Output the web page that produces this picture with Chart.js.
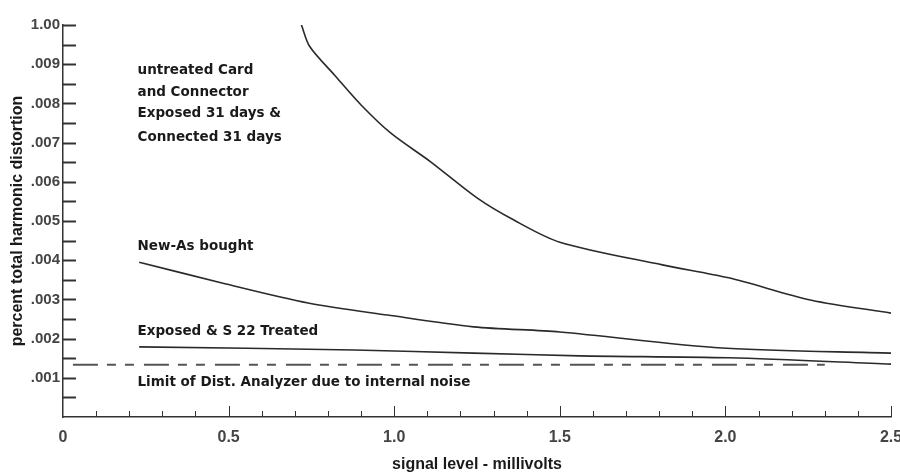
<!DOCTYPE html>
<html>
<head>
<meta charset="utf-8">
<script src="https://cdn.jsdelivr.net/npm/chart.js@4/dist/chart.umd.min.js"></script>
<style>
  html, body { margin: 0; padding: 0; background: #ffffff; }
  #wrap { width: 900px; height: 475px; }
</style>
</head>
<body>
<div id="wrap"><canvas id="c" width="900" height="475"></canvas></div>
<script>
// ---- data ----
const untreatedX = [0.72, 0.745, 0.82, 0.90, 0.99, 1.11, 1.25, 1.36, 1.50, 1.81, 2.01, 2.26, 2.50];
const untreatedY = [0.01000, 0.00945, 0.00872, 0.00796, 0.00724, 0.00651, 0.00559, 0.00503, 0.00446, 0.00388, 0.00355, 0.00298, 0.00265];

const newX = [0.23, 0.48, 0.74, 0.98, 1.24, 1.50, 1.99, 2.50];
const newY = [0.00395, 0.00342, 0.00291, 0.00260, 0.00230, 0.00217, 0.00176, 0.00163];

const treatedX = [0.23, 0.88, 1.24, 1.56, 2.01, 2.50];
const treatedY = [0.00179, 0.00171, 0.00163, 0.00156, 0.00151, 0.00135];

const limitX = [0.03, 2.30];
const limitY = [0.00133, 0.00133];

const xTickLabels = ['0', '0.5', '1.0', '1.5', '2.0', '2.5'];
const yTickLabels = ['', '.001', '.002', '.003', '.004', '.005', '.006', '.007', '.008', '.009', '1.00'];

const annotations = [
  { text: 'untreated Card',        x: 0.225, y: 0.00885 },
  { text: 'and Connector',         x: 0.225, y: 0.00829 },
  { text: 'Exposed 31 days &',     x: 0.225, y: 0.00773 },
  { text: 'Connected 31 days',     x: 0.225, y: 0.00714 },
  { text: 'New-As bought',         x: 0.225, y: 0.00434 },
  { text: 'Exposed & S 22 Treated', x: 0.225, y: 0.00217 },
  { text: 'Limit of Dist. Analyzer due to internal noise', x: 0.225, y: 0.00089 }
];

const pts = (xs, ys) => xs.map((x, i) => ({ x: x, y: ys[i] }));

const lineColor = '#2a2a2a';

const innerTicks = {
  id: 'innerTicks',
  afterDraw(chart) {
    const { ctx, chartArea, scales } = chart;
    const x = scales.x, y = scales.y;
    ctx.save();
    ctx.strokeStyle = '#333';
    ctx.lineWidth = 2;
    for (let i = 1; i <= 20; i++) {
      const py = Math.round(y.getPixelForValue(i * 0.0005)) + 0.5;
      ctx.beginPath();
      ctx.moveTo(chartArea.left, py);
      ctx.lineTo(chartArea.left + 13, py);
      ctx.stroke();
    }
    ctx.lineWidth = 1;
    for (let i = 1; i <= 25; i++) {
      const px = Math.round(x.getPixelForValue(i * 0.1)) + 0.5;
      const len = (i % 5 === 0) ? 11 : 6;
      ctx.beginPath();
      ctx.moveTo(px, chartArea.bottom);
      ctx.lineTo(px, chartArea.bottom - len);
      ctx.stroke();
    }
    ctx.restore();
  }
};

const textLabels = {
  id: 'textLabels',
  afterDatasetsDraw(chart) {
    const { ctx, scales } = chart;
    ctx.save();
    ctx.fillStyle = '#1a1a1a';
    ctx.font = 'bold 13.5px "DejaVu Sans", sans-serif';
    ctx.textBaseline = 'middle';
    ctx.textAlign = 'left';
    annotations.forEach(a => {
      ctx.fillText(a.text, scales.x.getPixelForValue(a.x), scales.y.getPixelForValue(a.y));
    });
    ctx.restore();
  }
};

new Chart(document.getElementById('c'), {
  type: 'line',
  data: {
    datasets: [
      { label: 'untreated Card and Connector', data: pts(untreatedX, untreatedY),
        borderColor: lineColor, borderWidth: 1.6, pointRadius: 0, tension: 0.3, fill: false },
      { label: 'New-As bought', data: pts(newX, newY),
        borderColor: lineColor, borderWidth: 1.6, pointRadius: 0, tension: 0.3, fill: false },
      { label: 'Exposed & S 22 Treated', data: pts(treatedX, treatedY),
        borderColor: lineColor, borderWidth: 1.6, pointRadius: 0, tension: 0.3, fill: false },
      { label: 'Limit of Dist. Analyzer', data: pts(limitX, limitY),
        borderColor: '#555', borderWidth: 2, borderDash: [25, 9, 9, 9, 9, 10], pointRadius: 0, fill: false }
    ]
  },
  options: {
    responsive: false,
    animation: false,
    devicePixelRatio: 1,
    layout: { padding: { top: 25, right: 9, left: 0, bottom: 0 } },
    plugins: { legend: { display: false }, tooltip: { enabled: false } },
    scales: {
      x: {
        type: 'linear',
        min: 0, max: 2.5,
        afterFit(scale) { scale.height = 58; scale.paddingRight = 0; scale.paddingLeft = 0; },
        grid: { drawOnChartArea: false, drawTicks: false },
        border: { display: true, color: '#333', width: 1.5 },
        ticks: {
          stepSize: 0.5,
          padding: 11,
          color: '#444',
          font: { family: '"Liberation Sans", Arial, sans-serif', size: 16, weight: 'bold' },
          callback: (v, i) => xTickLabels[i]
        },
        title: {
          display: true,
          text: 'signal level - millivolts',
          color: '#1a1a1a',
          font: { family: '"Liberation Sans", Arial, sans-serif', size: 16, weight: 'bold' },
          padding: { top: 0, bottom: 1 }
        }
      },
      y: {
        type: 'linear',
        min: 0, max: 0.010,
        afterFit(scale) { scale.width = 63; },
        grid: { drawOnChartArea: false, drawTicks: false },
        border: { display: true, color: '#333', width: 1.5 },
        ticks: {
          stepSize: 0.001,
          padding: 3,
          color: '#444',
          font: { family: '"Liberation Sans", Arial, sans-serif', size: 15, weight: 'bold' },
          callback: (v, i) => yTickLabels[i]
        },
        title: {
          display: true,
          text: 'percent total harmonic distortion',
          color: '#1a1a1a',
          font: { family: '"Liberation Sans", Arial, sans-serif', size: 16, weight: 'bold' },
          padding: { top: 8, bottom: 0 }
        }
      }
    }
  },
  plugins: [innerTicks, textLabels]
});
</script>
</body>
</html>
